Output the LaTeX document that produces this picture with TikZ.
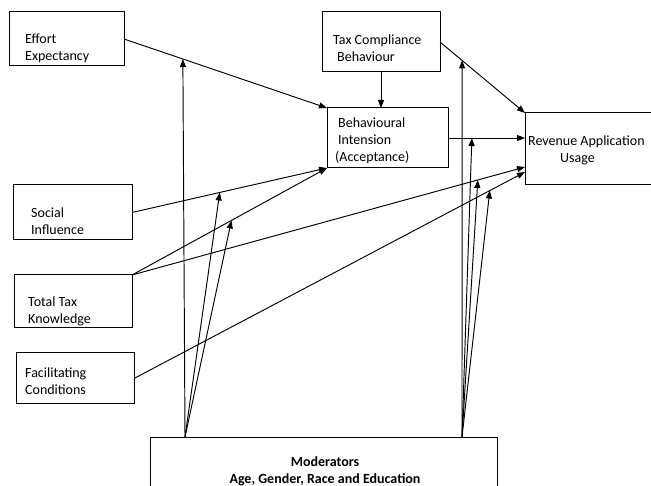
\documentclass[tikz,border=0pt]{standalone}
\usepackage{fontspec}
\setmainfont{Carlito}
\usetikzlibrary{positioning,arrows.meta,calc}

\begin{document}
\begin{tikzpicture}[x=1pt, y=-1pt,
  font=\fontsize{14}{17}\selectfont,
  caja/.style={draw, line width=1pt, inner sep=0pt, outer sep=0pt},
  texto/.style={anchor=west, align=left, inner sep=0pt},
  negrita/.style={align=center, inner sep=0pt, font=\fontsize{14}{17}\selectfont\bfseries},
  flecha/.style={-{Triangle[length=8pt, width=6pt]}, line width=0.95pt}
]
  \clip (0,0) rectangle (651,486);

  % constructos de la izquierda
  \node[caja, minimum width=115, minimum height=54] (effort) at (66.5,39) {};
  \node[texto] (effort-t) at (25,48) {Effort\\Expectancy};
  \node[caja, minimum width=119, minimum height=55] (social) at (72.5,212.5) {};
  \node[texto] (social-t) at (31,221) {Social\\Influence};
  \node[caja, minimum width=118, minimum height=53] (ttk) at (73,301.5) {};
  \node[texto] (ttk-t) at (28,311) {Total Tax\\Knowledge};
  \node[caja, minimum width=118, minimum height=51] (fc) at (75,378.5) {};
  \node[texto] (fc-t) at (25,381) {Facilitating\\Conditions};

  % centro y derecha
  \node[caja, minimum width=118, minimum height=60] (tcb) at (381,42) {};
  \node[texto] (tcb-t) at (333,48) {Tax Compliance\\\hspace{4pt}Behaviour};
  \node[caja, minimum width=121, minimum height=60] (bi) at (387.5,138) {};
  \node[texto] (bi-t) at (335,141) {\hspace{3pt}Behavioural\\\hspace{3pt}Intension\\(Acceptance)};
  \node[caja, minimum width=145, minimum height=72] (rau) at (597.5,149) {};
  \node[texto] (rau-t) at (528,150) {Revenue Application\\\hspace{32pt}Usage};

  % moderadores
  \node[caja, minimum width=347, minimum height=73] (mod) at (323.5,473.5) {};
  \node[negrita] (mod-t) at (325,471) {Moderators\\Age, Gender, Race and Education};
  \coordinate (mL) at ([xshift=35pt]mod.north west);
  \coordinate (mR) at ([xshift=-35pt]mod.north east);

  % relaciones
  \draw[flecha] (effort.east) -- (bi.north west);
  \draw[flecha] (social.east) -- (bi.south west);
  \draw[flecha] (ttk.north east) -- (bi.south west);
  \draw[flecha] (ttk.north east) -- ([yshift=-18pt]rau.west);
  \draw[flecha] (fc.east) -- ([yshift=-23pt]rau.west);
  \draw[flecha] (tcb.south) -- (tcb.south |- bi.north);
  \draw[flecha] (tcb.east) -- (rau.north west);
  \draw[flecha] (bi.east) -- (bi.east -| rau.west);

  % efectos moderadores
  \draw[flecha] (mL) -- ($(effort.east)!0.29!(bi.north west)$);
  \draw[flecha] (mL) -- ($(social.east)!0.45!(bi.south west)$);
  \draw[flecha] (mL) -- ($(ttk.north east)!0.51!(bi.south west)$);
  \draw[flecha] (mR) -- ($(tcb.east)!0.26!(rau.north west)$);
  \draw[flecha] (mR) -- ($(bi.east)!0.31!(bi.east -| rau.west)$);
  \draw[flecha] (mR) -- ($(ttk.north east)!0.88!([yshift=-18pt]rau.west)$);
  \draw[flecha] (mR) -- ($(fc.east)!0.91!([yshift=-23pt]rau.west)$);
\end{tikzpicture}
\end{document}
